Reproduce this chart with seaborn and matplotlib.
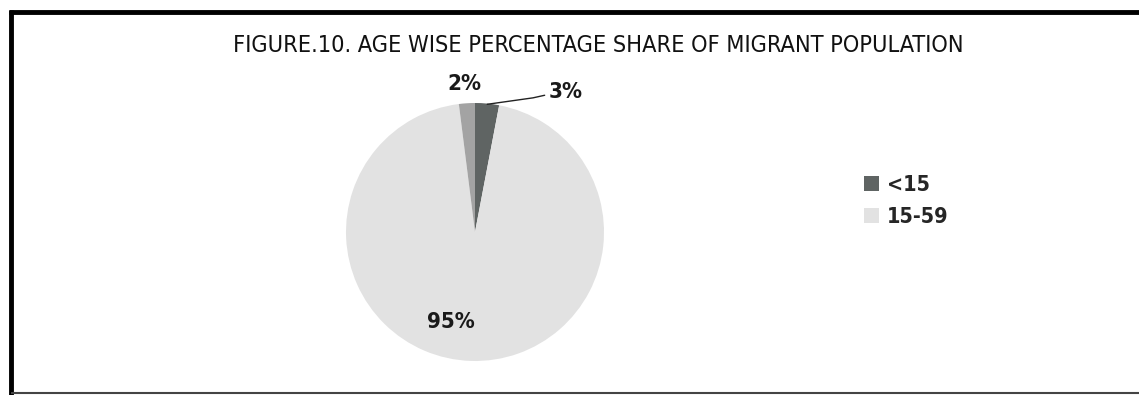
import matplotlib
matplotlib.use("Agg")
import matplotlib.pyplot as plt
from matplotlib.lines import Line2D
from matplotlib.patches import Patch
import seaborn as sns

# Age groups and their share of the migrant population (%)
age_groups = ["<15", "15-59", "60+"]
shares = [3, 95, 2]
legend_groups = ["<15", "15-59"]

colors = ["#5f6463", "#e2e2e2", "#a3a3a3"]

sns.set_theme(style="white")
plt.rcParams["font.family"] = ["DejaVu Sans"]
plt.rcParams["font.stretch"] = "condensed"

W, H = 1139, 395
fig = plt.figure(figsize=(W / 100, H / 100), dpi=100)
fig.patch.set_facecolor("white")

# Pie axes: centre (475, 232) px, radius 129 px
cx, cy, R = 475, 232, 129
ax = fig.add_axes([(cx - R) / W, 1 - (cy + R) / H, 2 * R / W, 2 * R / H])
wedges, _ = ax.pie(shares, colors=colors, startangle=90, counterclock=False,
                   radius=1.0, wedgeprops=dict(linewidth=0))
ax.set_xlim(-1, 1)
ax.set_ylim(-1, 1)
ax.set_aspect("equal")
ax.axis("off")

label_pos = {"<15": (0.70, 1.085), "15-59": (-0.19, -0.70), "60+": (-0.08, 1.15)}
for g, s in zip(age_groups, shares):
    x, y = label_pos[g]
    ax.text(x, y, f"{s}%", ha="center", va="center", fontsize=16,
            fontweight="bold", stretch="condensed", color="#1a1a1a", clip_on=False)

# Leader line for the small <15 slice
ax.add_line(Line2D([0.095, 0.45, 0.54], [0.99, 1.04, 1.06], color="#222222",
                   linewidth=1.0, clip_on=False))

# Title
fig.text(598 / W, 1 - 46 / H, "FIGURE.10. AGE WISE PERCENTAGE SHARE OF MIGRANT POPULATION",
         ha="center", va="center", fontsize=16.8, stretch="condensed", color="#111111")

# Legend
handles = [Patch(facecolor=colors[age_groups.index(g)], edgecolor="none") for g in legend_groups]
fig.legend(handles, legend_groups, loc="upper left", bbox_to_anchor=(845 / W, 1 - 156 / H),
           frameon=False, prop=dict(weight="bold", size=15.5, stretch="condensed"),
           handlelength=0.7, handleheight=0.7, handletextpad=0.35, labelspacing=0.55)

# Frame around the figure
fig.add_artist(Line2D([11 / W, 11 / W], [0, 1 - 10 / H], transform=fig.transFigure,
                      color="black", linewidth=3.5, solid_capstyle="butt"))
fig.add_artist(Line2D([9 / W, 1], [1 - 11.5 / H, 1 - 11.5 / H], transform=fig.transFigure,
                      color="black", linewidth=3.5, solid_capstyle="butt"))
fig.add_artist(Line2D([11 / W, 1], [1 - 393 / H, 1 - 393 / H], transform=fig.transFigure,
                      color="#444444", linewidth=1.5, solid_capstyle="butt"))

fig.savefig("out.png", dpi=100, facecolor="white")
